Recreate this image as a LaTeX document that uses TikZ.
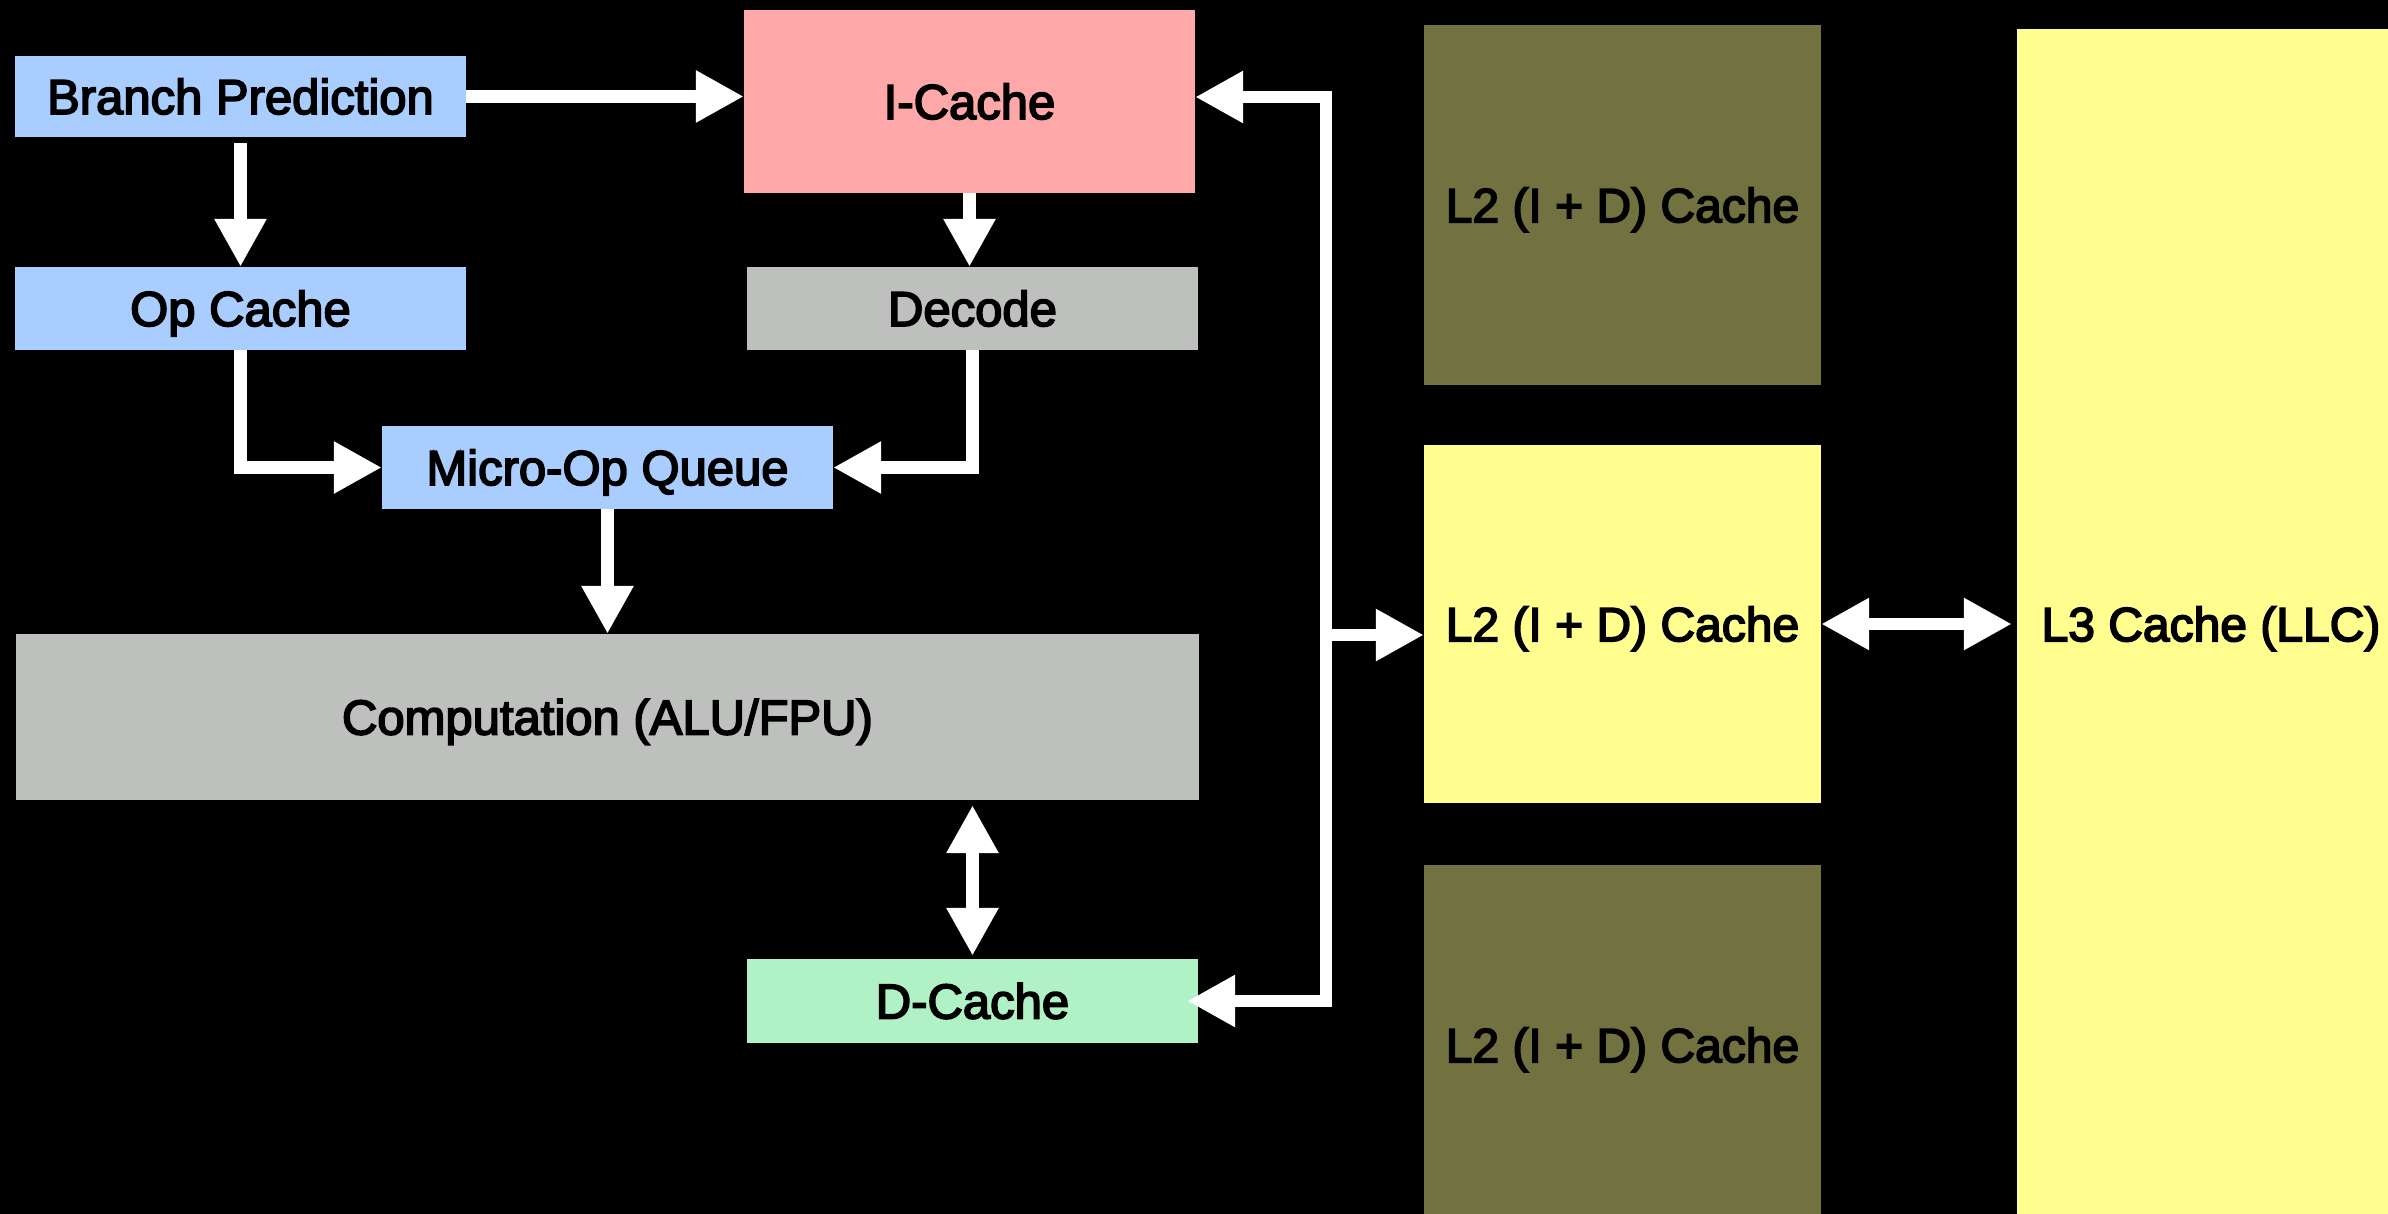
\documentclass[tikz,border=0pt]{standalone}
\usepackage{fontspec}
\setmainfont{Liberation Sans}
\newfontfamily\medfont{Liberation Sans}[FakeBold=3.5]
\usetikzlibrary{arrows.meta}
\definecolor{cblue}{HTML}{A9CDFF}
\definecolor{cpink}{HTML}{FFA8A9}
\definecolor{cgray}{HTML}{BEC0BE}
\definecolor{cgreen}{HTML}{B0F2C6}
\definecolor{colive}{HTML}{727240}
\definecolor{cyellow}{HTML}{FFFE8E}
\begin{document}
\begin{tikzpicture}[x=1pt,y=-1pt,
  box/.style={rectangle, inner sep=0pt, text=black, text height=35pt, text depth=0pt,
    font=\medfont\fontsize{49}{58}\selectfont},
  bigbox/.style={rectangle, inner sep=0pt, text=black, text height=34.4pt, text depth=0pt,
    font=\medfont\fontsize{48}{58}\selectfont},
  arr/.style={draw=white, line width=12.5pt, line join=miter,
    -{Triangle[length=48pt,width=49pt]}},
  darr/.style={draw=white, line width=12.5pt, line join=miter,
    {Triangle[length=48pt,width=49pt]}-{Triangle[length=48pt,width=49pt]}}]
\useasboundingbox (0,0) rectangle (2388,1214);
\clip (0,0) rectangle (2388,1214);
\fill[black] (0,0) rectangle (2388,1214);
% left nodes
\node[box, fill=cblue, minimum width=451pt, minimum height=81pt] (bp) at (240.5,96.5) {Branch Prediction};
\node[box, fill=cpink, minimum width=451pt, minimum height=183pt] (ic) at (969.5,101.5) {I-Cache};
\node[box, fill=cblue, minimum width=451pt, minimum height=83pt] (oc) at (240.5,308.5) {Op Cache};
\node[box, fill=cgray, minimum width=451pt, minimum height=83pt] (dec) at (972.5,308.5) {Decode};
\node[box, fill=cblue, minimum width=451pt, minimum height=83pt] (mq) at (607.5,467.5) {Micro-Op Queue};
\node[box, fill=cgray, minimum width=1183pt, minimum height=166pt] (comp) at (607.5,717) {Computation (ALU/FPU)};
\node[box, fill=cgreen, minimum width=451pt, minimum height=84pt] (dc) at (972.5,1001) {D-Cache};
% right nodes
\node[bigbox, fill=colive, minimum width=397pt, minimum height=360pt] (l2t) at (1622.5,205) {L2 (I + D) Cache};
\node[bigbox, fill=cyellow, minimum width=397pt, minimum height=358pt] (l2m) at (1622.5,624) {L2 (I + D) Cache};
\node[bigbox, fill=colive, minimum width=397pt, minimum height=360pt] (l2b) at (1622.5,1045) {L2 (I + D) Cache};
\node[bigbox, fill=cyellow, minimum width=388pt, minimum height=1190pt] (l3) at (2211,624) {L3 Cache (LLC)};
% connectors
\draw[arr] (bp.east) -- (bp.east -| ic.west);
\draw[arr, shorten <=6pt] (bp.south) -- (oc.north);
\draw[arr] (oc.south) |- (mq.west);
\draw[arr] (ic.south) -- (ic.south |- dec.north);
\draw[arr] (dec.south) |- (mq.east);
\draw[arr] (mq.south) -- (mq.south |- comp.north);
\draw[darr, shorten <=5pt, shorten >=3pt] (comp.south -| dc.north) -- (dc.north);
\coordinate (bt) at (1326,97);
\coordinate (bb) at (1326,1001);
\coordinate (bj) at (1326,635);
\draw[darr] (ic.east |- bt) -- (bt) -- (bb) -- ([xshift=-11pt]dc.east);
\draw[arr] (bj) -- (bj -| l2m.west);
\draw[darr, shorten >=5pt] (l2m.east) -- (l2m.east -| l3.west);
\end{tikzpicture}
\end{document}
